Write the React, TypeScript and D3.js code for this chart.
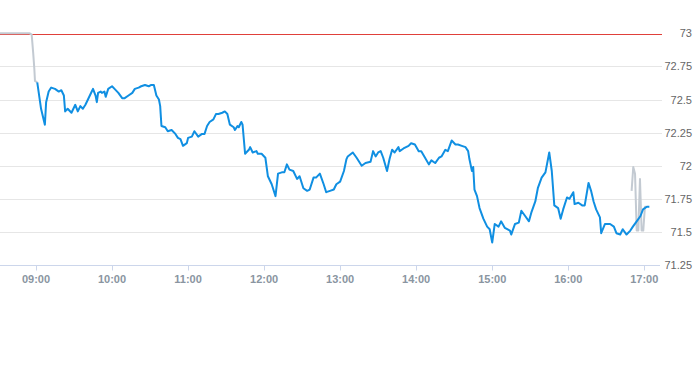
import React, { useEffect, useRef } from 'react';
import * as d3 from 'd3';

// minutes after 09:00 -> last price
const sessionTicks: [number, number][] = [
  [1, 72.63], [4, 72.43], [7, 72.31], [8, 72.48], [10, 72.56], [12, 72.59], [15, 72.58], [18, 72.56],
  [20, 72.57], [22, 72.53], [23, 72.41], [25, 72.43], [28, 72.4], [31, 72.46], [33, 72.41], [35, 72.45],
  [37, 72.43], [39, 72.46], [41, 72.5], [44, 72.56], [45, 72.58], [47, 72.53], [48, 72.48], [49, 72.55],
  [51, 72.56], [52, 72.55], [54, 72.56], [55, 72.52], [57, 72.58], [60, 72.6], [62, 72.58], [65, 72.55],
  [68, 72.51], [70, 72.51], [73, 72.53], [76, 72.55], [78, 72.58], [81, 72.59], [83, 72.6], [86, 72.61],
  [89, 72.6], [91, 72.61], [93, 72.61], [95, 72.53], [97, 72.5], [98, 72.45], [99, 72.3], [102, 72.29],
  [104, 72.26], [107, 72.27], [110, 72.24], [112, 72.21], [114, 72.2], [116, 72.15], [119, 72.17], [120, 72.21],
  [123, 72.22], [125, 72.26], [128, 72.22], [131, 72.24], [133, 72.24], [135, 72.3], [137, 72.33], [140, 72.35],
  [142, 72.39], [144, 72.39], [147, 72.4], [149, 72.41], [151, 72.39], [153, 72.31], [156, 72.29], [157, 72.27],
  [159, 72.3], [160, 72.29], [162, 72.33], [163, 72.31], [165, 72.09], [168, 72.12], [169, 72.14], [171, 72.1],
  [174, 72.11], [175, 72.09], [178, 72.09], [181, 72.06], [183, 71.92], [186, 71.86], [189, 71.77], [191, 71.94],
  [194, 71.95], [196, 71.95], [198, 72.01], [200, 71.97], [203, 71.96], [206, 71.9], [208, 71.92], [211, 71.83],
  [214, 71.81], [216, 71.82], [219, 71.91], [221, 71.91], [224, 71.94], [227, 71.86], [229, 71.8], [232, 71.81],
  [235, 71.82], [237, 71.86], [240, 71.88], [243, 71.96], [245, 72.05], [246, 72.07], [250, 72.1], [253, 72.06],
  [257, 72.0], [260, 72.02], [264, 72.03], [266, 72.11], [268, 72.07], [270, 72.1], [272, 72.11], [274, 72.06],
  [277, 71.96], [279, 72.05], [281, 72.12], [283, 72.1], [286, 72.14], [287, 72.11], [290, 72.13], [294, 72.15],
  [296, 72.17], [299, 72.16], [302, 72.11], [304, 72.11], [307, 72.06], [310, 72.01], [312, 72.04], [315, 72.02],
  [318, 72.06], [320, 72.07], [323, 72.12], [325, 72.11], [328, 72.19], [331, 72.16], [333, 72.16], [336, 72.15],
  [339, 72.14], [341, 72.11], [342, 72.05], [344, 71.96], [345, 71.99], [346, 71.82], [348, 71.77], [350, 71.68],
  [353, 71.6], [356, 71.54], [358, 71.52], [360, 71.42], [362, 71.56], [365, 71.54], [367, 71.58], [370, 71.53],
  [374, 71.51], [375, 71.48], [378, 71.56], [381, 71.57], [383, 71.66], [386, 71.62], [389, 71.58], [391, 71.65],
  [394, 71.73], [396, 71.83], [399, 71.91], [402, 71.95], [405, 72.1], [407, 71.96], [409, 71.7], [412, 71.68],
  [414, 71.6], [416, 71.67], [419, 71.76], [421, 71.75], [424, 71.8], [425, 71.71], [428, 71.72], [431, 71.7],
  [433, 71.7], [436, 71.87], [438, 71.81], [440, 71.73], [442, 71.67], [445, 71.61], [446, 71.49], [449, 71.56],
  [453, 71.56], [456, 71.54], [458, 71.49], [461, 71.48], [463, 71.52], [466, 71.48], [469, 71.51], [471, 71.54],
  [474, 71.58], [477, 71.62], [479, 71.67], [482, 71.69], [484, 71.69],
];

// pre-open and closing auction indications (gray)
const preOpenTicks: [number, number][] = [
  [-28.4, 73], [-5, 73], [-3.4, 72.99], [-2.2, 72.85], [-1.3, 72.73], [-0.8, 72.64], [1, 72.63],
];
const closingTicks: [number, number][] = [
  [470, 71.81], [471.3, 71.99], [472.7, 71.94], [474, 71.51], [475.3, 71.51], [476.6, 71.9],
  [477.9, 71.51], [479.2, 71.51], [480.5, 71.69], [481.5, 71.69],
];

const previousClose = 73;
const yTicks = [71.25, 71.5, 71.75, 72, 72.25, 72.5, 72.75, 73];
const hourTicks = [0, 60, 120, 180, 240, 300, 360, 420, 480];
const hourLabels = ['09:00', '10:00', '11:00', '12:00', '13:00', '14:00', '15:00', '16:00', '17:00'];

const App: React.FC = () => {
  const ref = useRef<SVGSVGElement | null>(null);

  useEffect(() => {
    if (!ref.current) return;
    const width = 693;
    const height = 365;
    const plotRight = 662;

    const x = d3.scaleLinear().domain([-28.4, 492.4]).range([0, 660]);
    const y = d3.scaleLinear().domain([71.25, 73]).range([265, 33.3]);

    const svg = d3.select(ref.current).attr('width', width).attr('height', height);
    svg.selectAll('*').remove();

    // grid
    svg.append('g')
      .selectAll('line')
      .data(yTicks.filter(t => t !== 71.25 && t !== previousClose))
      .enter()
      .append('line')
      .attr('x1', 0)
      .attr('x2', plotRight)
      .attr('y1', d => Math.round(y(d)) + 0.5)
      .attr('y2', d => Math.round(y(d)) + 0.5)
      .attr('stroke', '#e6e6e6');

    // y labels on the right
    svg.append('g')
      .selectAll('text')
      .data(yTicks)
      .enter()
      .append('text')
      .attr('x', 692)
      .attr('y', d => y(d) + 4)
      .attr('text-anchor', 'end')
      .attr('fill', '#666')
      .style('font', '11px "Liberation Sans", Arial, sans-serif')
      .text(d => d3.format('')(d));

    // x axis
    const axisY = Math.round(y(71.25)) + 0.5;
    svg.append('line')
      .attr('x1', 0).attr('x2', 660)
      .attr('y1', axisY).attr('y2', axisY)
      .attr('stroke', '#ccd6eb');

    const xAxis = svg.append('g');
    xAxis.selectAll('line')
      .data(hourTicks)
      .enter()
      .append('line')
      .attr('x1', d => Math.round(x(d)) + 0.5)
      .attr('x2', d => Math.round(x(d)) + 0.5)
      .attr('y1', axisY)
      .attr('y2', axisY + 5)
      .attr('stroke', '#ccd6eb');
    xAxis.selectAll('text')
      .data(hourTicks)
      .enter()
      .append('text')
      .attr('x', d => x(d))
      .attr('y', 283)
      .attr('text-anchor', 'middle')
      .attr('fill', '#8a95a1')
      .style('font', 'bold 11px "Liberation Sans", Arial, sans-serif')
      .text((d, i) => hourLabels[i]);

    const line = d3.line<[number, number]>()
      .x(d => x(d[0]))
      .y(d => y(d[1]));

    // previous close, snapped to a pixel row so it stays crisp
    const closeY = Math.ceil(y(previousClose)) + 0.5;
    svg.append('line')
      .attr('x1', 0).attr('x2', plotRight)
      .attr('y1', closeY).attr('y2', closeY)
      .attr('stroke', '#e0403a')
      .attr('stroke-width', 1);

    [preOpenTicks, closingTicks].forEach(series => {
      svg.append('path')
        .datum(series)
        .attr('d', line)
        .attr('fill', 'none')
        .attr('stroke', '#c3cad2')
        .attr('stroke-width', 2)
        .attr('stroke-linejoin', 'round');
    });

    svg.append('path')
      .datum(sessionTicks)
      .attr('d', line)
      .attr('fill', 'none')
      .attr('stroke', '#108fe2')
      .attr('stroke-width', 2)
      .attr('stroke-linejoin', 'round');

    return () => {
      d3.select(ref.current).selectAll('*').remove();
    };
  }, []);

  return (
    <div style={{ position: 'absolute', left: 0, top: 0, background: '#fff' }}>
      <svg ref={ref}></svg>
    </div>
  );
};

export default App;
